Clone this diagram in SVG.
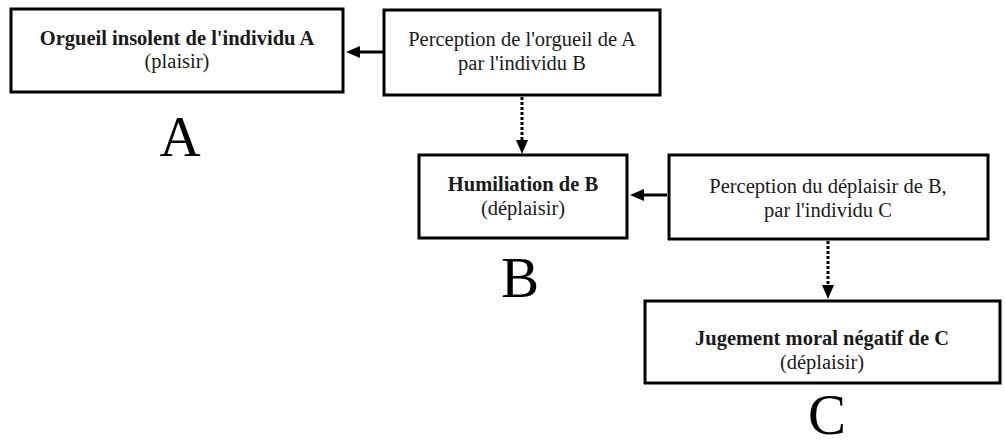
<svg xmlns="http://www.w3.org/2000/svg" width="1005" height="447" viewBox="0 0 1005 447">
  <style>
    .box { fill: #fff; stroke: #000; stroke-width: 3; }
    .t { font-family: "Liberation Serif", "DejaVu Serif", serif; font-size: 20.5px; fill: #1a1a1a; text-anchor: middle; }
    .b { font-weight: bold; }
    .big { font-family: "Liberation Serif", "DejaVu Serif", serif; font-size: 57px; fill: #000; text-anchor: middle; }
    .solid { stroke: #000; stroke-width: 3; fill: none; }
    .dotted { stroke: #000; stroke-width: 3; fill: none; stroke-dasharray: 3 2; }
  </style>
  <defs>
    <marker id="arrow" markerWidth="14" markerHeight="12" refX="0" refY="6" orient="auto" markerUnits="userSpaceOnUse" viewBox="0 0 14 12">
      <path d="M0,0 L14,6 L0,12 Z" fill="#000"/>
    </marker>
  </defs>

  <g id="connectors">
    <line class="solid" x1="383" y1="52" x2="360" y2="52" marker-end="url(#arrow)"/>
    <line class="dotted" x1="522" y1="97" x2="522" y2="140" marker-end="url(#arrow)"/>
    <line class="solid" x1="667" y1="195" x2="644" y2="195" marker-end="url(#arrow)"/>
    <line class="dotted" x1="828" y1="241" x2="828" y2="285" marker-end="url(#arrow)"/>
  </g>

  <g id="node-orgueil">
    <rect class="box" x="11" y="9" width="332" height="83"/>
    <text class="t b" x="177" y="45">Orgueil insolent de l'individu A</text>
    <text class="t" x="177" y="68">(plaisir)</text>
  </g>

  <g id="node-perception-a">
    <rect class="box" x="384" y="10" width="276" height="85"/>
    <text class="t" x="522" y="46">Perception de l'orgueil de A</text>
    <text class="t" x="522" y="70">par l'individu B</text>
  </g>

  <g id="node-humiliation">
    <rect class="box" x="419" y="155" width="208" height="83"/>
    <text class="t b" x="523" y="191">Humiliation de B</text>
    <text class="t" x="523" y="215">(déplaisir)</text>
  </g>

  <g id="node-perception-b">
    <rect class="box" x="669" y="155" width="319" height="84"/>
    <text class="t" x="828" y="193">Perception du déplaisir de B,</text>
    <text class="t" x="828" y="217">par l'individu C</text>
  </g>

  <g id="node-jugement">
    <rect class="box" x="645" y="301" width="355" height="82"/>
    <text class="t b" x="822" y="345">Jugement moral négatif de C</text>
    <text class="t" x="822" y="369">(déplaisir)</text>
  </g>

  <g id="labels">
    <text class="big" x="180" y="156">A</text>
    <text class="big" x="520" y="297">B</text>
    <text class="big" x="827" y="434">C</text>
  </g>
</svg>
